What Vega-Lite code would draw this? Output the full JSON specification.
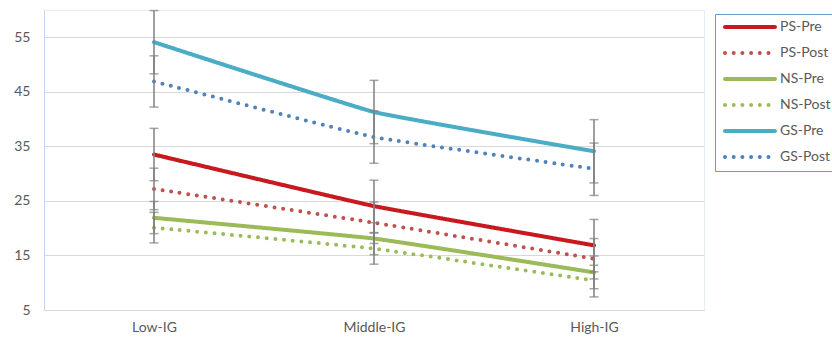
{
  "$schema": "https://vega.github.io/schema/vega-lite/v6.json",
  "width": 660,
  "height": 300,
  "autosize": "none",
  "padding": {"left": 44, "top": 10, "right": 128, "bottom": 30},
  "background": "white",
  "config": {
    "font": "Lato",
    "view": {"stroke": "#E4ECF6", "strokeWidth": 1},
    "axis": {"labelColor": "#595959", "labelFontSize": 14, "ticks": false, "title": null}
  },
  "data": {
    "values": [
      {"group": "Low-IG", "series": "PS-Pre", "value": 33.5, "lo": 28.7, "hi": 38.3},
      {"group": "Low-IG", "series": "PS-Post", "value": 27.2, "lo": 23.4, "hi": 31.0},
      {"group": "Low-IG", "series": "NS-Pre", "value": 21.9, "lo": 19.0, "hi": 24.9},
      {"group": "Low-IG", "series": "NS-Post", "value": 20.1, "lo": 17.3, "hi": 22.9},
      {"group": "Low-IG", "series": "GS-Pre", "value": 54.1, "lo": 48.3, "hi": 59.9},
      {"group": "Low-IG", "series": "GS-Post", "value": 46.9, "lo": 42.2, "hi": 51.6},
      {"group": "Middle-IG", "series": "PS-Pre", "value": 24.05, "lo": 19.2, "hi": 28.8},
      {"group": "Middle-IG", "series": "PS-Post", "value": 21.0, "lo": 17.2, "hi": 24.8},
      {"group": "Middle-IG", "series": "NS-Pre", "value": 18.1, "lo": 15.15, "hi": 21.0},
      {"group": "Middle-IG", "series": "NS-Post", "value": 16.25, "lo": 13.4, "hi": 19.1},
      {"group": "Middle-IG", "series": "GS-Pre", "value": 41.3, "lo": 35.5, "hi": 47.1},
      {"group": "Middle-IG", "series": "GS-Post", "value": 36.7, "lo": 31.9, "hi": 41.5},
      {"group": "High-IG", "series": "PS-Pre", "value": 16.85, "lo": 12.0, "hi": 21.6},
      {"group": "High-IG", "series": "PS-Post", "value": 14.4, "lo": 10.7, "hi": 18.1},
      {"group": "High-IG", "series": "NS-Pre", "value": 11.9, "lo": 8.9, "hi": 14.9},
      {"group": "High-IG", "series": "NS-Post", "value": 10.4, "lo": 7.4, "hi": 13.2},
      {"group": "High-IG", "series": "GS-Pre", "value": 34.1, "lo": 28.3, "hi": 39.9},
      {"group": "High-IG", "series": "GS-Post", "value": 30.9, "lo": 26.0, "hi": 35.6}
    ]
  },
  "encoding": {
    "x": {
      "field": "group",
      "type": "nominal",
      "sort": ["Low-IG", "Middle-IG", "High-IG"],
      "scale": {"type": "point", "padding": 0.5},
      "axis": {"labelAngle": 0, "labelPadding": 10, "domainColor": "#D9D9D9", "grid": false}
    }
  },
  "layer": [
    {
      "mark": {"type": "line", "interpolate": "cardinal", "tension": 0.7, "strokeWidth": 4, "strokeCap": "round"},
      "encoding": {
        "y": {
          "field": "value",
          "type": "quantitative",
          "scale": {"domain": [5, 60], "nice": false, "zero": false},
          "axis": {"values": [5, 15, 25, 35, 45, 55], "gridColor": "#D9D9D9", "domainColor": "#C5D7EE", "labelPadding": 14}
        },
        "color": {
          "field": "series",
          "type": "nominal",
          "scale": {
            "domain": ["PS-Pre", "PS-Post", "NS-Pre", "NS-Post", "GS-Pre", "GS-Post"],
            "range": ["#C8191F", "#C0504D", "#9BBB59", "#9BBB59", "#4BACC6", "#4F81BD"]
          },
          "legend": {
            "title": null,
            "orient": "none",
            "legendX": 671,
            "legendY": 4,
            "symbolType": "M-5,0H5",
            "symbolSize": 100,
            "symbolOffset": 22,
            "symbolStrokeWidth": 4,
            "labelFontSize": 14,
            "labelColor": "#595959",
            "labelOffset": 23,
            "rowPadding": 10,
            "padding": 6,
            "strokeColor": "#6F97CF",
            "fillColor": "white",
            "encode": {
              "symbols": {
                "update": {
                  "strokeDash": {"signal": "indexof(datum.value, 'Post') >= 0 ? [0, 8.7] : [1, 0]"},
                  "strokeCap": {"value": "round"}
                }
              }
            }
          }
        },
        "strokeDash": {
          "field": "series",
          "type": "nominal",
          "scale": {
            "domain": ["PS-Pre", "PS-Post", "NS-Pre", "NS-Post", "GS-Pre", "GS-Post"],
            "range": [[1, 0], [0, 8.7], [1, 0], [0, 8.7], [1, 0], [0, 8.7]]
          },
          "legend": null
        }
      }
    },
    {
      "mark": {"type": "rule", "color": "#7F7F7F", "strokeWidth": 1.5},
      "encoding": {
        "detail": {"field": "series"},
        "y": {"field": "lo", "type": "quantitative"},
        "y2": {"field": "hi"}
      }
    },
    {
      "mark": {"type": "tick", "color": "#7F7F7F", "thickness": 1.5, "size": 9},
      "encoding": {"y": {"field": "lo", "type": "quantitative"}}
    },
    {
      "mark": {"type": "tick", "color": "#7F7F7F", "thickness": 1.5, "size": 9},
      "encoding": {"y": {"field": "hi", "type": "quantitative"}}
    }
  ]
}
